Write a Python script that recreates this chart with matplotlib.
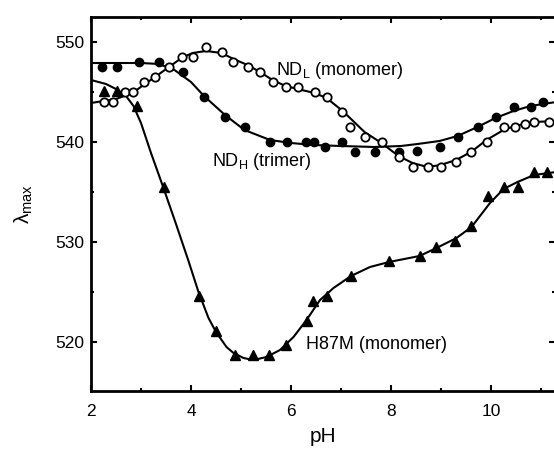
"""
lambda_max vs pH for ND_H (trimer), ND_L (monomer) and H87M (monomer).
Points are measurements, solid lines are the fitted titration curves.
"""

import matplotlib.pyplot as plt
from matplotlib.ticker import MultipleLocator

plt.rcParams['font.family'] = ['Liberation Sans', 'DejaVu Sans']
plt.rcParams['mathtext.fontset'] = 'custom'
plt.rcParams['mathtext.rm'] = 'Liberation Sans'

# ND_H (trimer), filled circles
ndh_ph = [2.21, 2.53, 2.96, 3.36, 3.83, 4.26, 4.68, 5.07, 5.58, 5.92, 6.30, 6.45,
          6.67, 7.01, 7.27, 7.67, 8.15, 8.53, 8.97, 9.33, 9.73, 10.09, 10.45, 10.79, 11.03]
ndh_lam = [547.5, 547.5, 548.0, 548.0, 547.0, 544.5, 542.5, 541.5, 540.0, 540.0, 540.0, 540.0,
           539.5, 540.0, 539.0, 539.0, 539.0, 539.1, 539.5, 540.5, 541.5, 542.5, 543.5, 543.5, 544.0]
ndh_fit_ph = [2.0, 2.5, 3.0, 3.36, 3.67, 4.0, 4.26, 4.68, 5.07, 5.58, 6.0, 6.45, 7.0,
              7.67, 8.2, 8.53, 8.97, 9.33, 9.73, 10.09, 10.45, 10.79, 11.3]
ndh_fit_lam = [547.9, 547.9, 547.9, 547.8, 547.2, 546.0, 544.6, 542.7, 541.2, 540.2, 539.9,
               539.7, 539.6, 539.5, 539.6, 539.8, 540.1, 540.6, 541.5, 542.4, 543.1, 543.6, 544.0]

# ND_L (monomer), open circles
ndl_ph = [2.25, 2.43, 2.67, 2.83, 3.05, 3.28, 3.56, 3.81, 4.03, 4.30, 4.61, 4.85, 5.13,
          5.38, 5.63, 5.89, 6.13, 6.47, 6.71, 7.01, 7.18, 7.47, 7.81, 8.15, 8.43, 8.73,
          8.99, 9.30, 9.60, 9.91, 10.25, 10.48, 10.68, 10.86, 11.15]
ndl_lam = [544.0, 544.0, 545.0, 545.0, 546.0, 546.5, 547.5, 548.5, 548.5, 549.5, 549.0, 548.0, 547.5,
           547.0, 546.0, 545.5, 545.5, 545.0, 544.5, 543.0, 541.5, 540.5, 540.0, 538.5, 537.5, 537.5,
           537.5, 538.0, 539.0, 540.0, 541.5, 541.5, 541.8, 542.0, 542.0]
ndl_fit_ph = [2.0, 2.5, 2.83, 3.05, 3.28, 3.56, 3.81, 4.03, 4.30, 4.61, 4.85, 5.13, 5.38,
              5.63, 5.89, 6.13, 6.47, 6.71, 7.01, 7.18, 7.47, 7.81, 8.15, 8.43, 8.73, 8.99,
              9.30, 9.60, 9.91, 10.25, 10.48, 10.86, 11.3]
ndl_fit_lam = [543.9, 544.3, 544.9, 545.7, 546.5, 547.5, 548.4, 548.9, 549.1, 548.9, 548.3, 547.7, 547.0,
               546.2, 545.6, 545.3, 544.9, 544.4, 543.2, 542.4, 541.0, 539.9, 538.6, 537.9, 537.5, 537.7,
               538.2, 539.0, 540.2, 541.2, 541.6, 542.0, 542.1]

# H87M (monomer), filled triangles
h87_ph = [2.25, 2.53, 2.91, 3.45, 4.15, 4.50, 4.87, 5.23, 5.55, 5.90, 6.31, 6.43, 6.71,
          7.20, 7.96, 8.57, 8.89, 9.29, 9.59, 9.95, 10.25, 10.53, 10.86, 11.11]
h87_lam = [545.1, 545.1, 543.6, 535.5, 524.6, 521.1, 518.7, 518.7, 518.7, 519.7, 522.1, 524.1, 524.6,
           526.6, 528.1, 528.6, 529.5, 530.1, 531.6, 534.6, 535.5, 535.5, 537.0, 537.0]
h87_fit_ph = [2.0, 2.3, 2.5, 2.7, 2.85, 3.0, 3.2, 3.45, 3.7, 3.95, 4.15, 4.35, 4.50, 4.71, 4.85,
              5.05, 5.25, 5.51, 5.78, 6.05, 6.31, 6.58, 6.85, 7.20, 7.58, 7.96, 8.57, 8.91,
              9.31, 9.61, 9.98, 10.25, 10.53, 10.86, 11.3]
h87_fit_lam = [546.2, 545.8, 545.3, 544.6, 543.6, 541.9, 538.9, 535.4, 531.8, 528.1, 525.0, 522.4,
               521.0, 519.5, 518.9, 518.4, 518.2, 518.5, 519.2, 520.5, 522.2, 524.2, 525.4, 526.6,
               527.5, 528.0, 528.6, 529.4, 530.4, 531.5, 533.9, 535.3, 536.0, 536.7, 537.0]

fig = plt.figure(figsize=(5.54, 4.51), dpi=100)
ax = fig.add_axes([91 / 554, 60 / 451, 464 / 554, 374 / 451])

ax.plot(ndh_fit_ph, ndh_fit_lam, color='black', linewidth=1.5, zorder=2)
ax.plot(ndl_fit_ph, ndl_fit_lam, color='black', linewidth=1.5, zorder=2)
ax.plot(h87_fit_ph, h87_fit_lam, color='black', linewidth=1.5, zorder=2)

ax.plot(ndh_ph, ndh_lam, 'o', color='black', markersize=6, zorder=3)
ax.plot(ndl_ph, ndl_lam, 'o', markerfacecolor='white', markeredgecolor='black',
        markeredgewidth=1.3, markersize=6, zorder=3)
ax.plot(h87_ph, h87_lam, '^', color='black', markersize=6.5, zorder=3)

ax.text(5.71, 547.1, r'ND$_\mathregular{L}$ (monomer)', fontsize=13, va='center', ha='left')
ax.text(4.41, 538.0, r'ND$_\mathregular{H}$ (trimer)', fontsize=13, va='center', ha='left')
ax.text(6.31, 519.7, 'H87M (monomer)', fontsize=13, va='center', ha='left')

ax.set_xlim(2, 11.28)
ax.set_ylim(515.1, 552.5)
ax.xaxis.set_major_locator(MultipleLocator(2))
ax.xaxis.set_minor_locator(MultipleLocator(1))
ax.yaxis.set_major_locator(MultipleLocator(10))
ax.yaxis.set_minor_locator(MultipleLocator(5))
ax.tick_params(which='both', direction='in', top=True, right=True, width=1.5, labelsize=12.5)
ax.tick_params(which='major', length=4.5)
ax.tick_params(which='minor', length=2.5)
ax.tick_params(axis='x', which='major', pad=9)
ax.tick_params(axis='y', which='major', pad=5)
for s in ax.spines.values():
    s.set_linewidth(2)

ax.set_xlabel('pH', fontsize=15, labelpad=6)
ax.set_ylabel(r'λ$_\mathregular{max}$', fontsize=15, labelpad=14)

plt.savefig('out.png', dpi=100)
